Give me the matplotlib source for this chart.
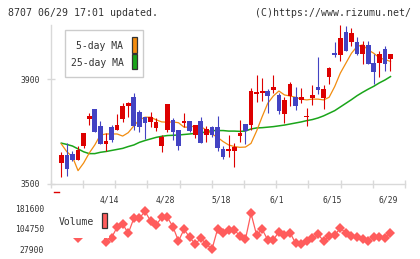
import numpy as np
import matplotlib
matplotlib.use("Agg")
import matplotlib.pyplot as plt
from matplotlib.patches import Rectangle
from matplotlib.lines import Line2D

# daily candles 4/1 .. 6/29 (60 trading days)
opens = [3581, 3611, 3615, 3593, 3645, 3750, 3787, 3722, 3654, 3719,
         3707, 3750, 3798, 3831, 3774, 3755, 3738, 3715, 3646, 3707,
         3745, 3706, 3733, 3741, 3687, 3741, 3688, 3717, 3717, 3633,
         3627, 3627, 3685, 3729, 3725, 3845, 3849, 3855, 3859, 3840,
         3767, 3836, 3832, 3821, 3757, 3829, 3872, 3829, 3910, 4000,
         3994, 4080, 4041, 4041, 3998, 4031, 3963, 3963, 4016, 3979]
highs = [3621, 3656, 3627, 3645, 3695, 3772, 3787, 3741, 3694, 3724,
         3767, 3808, 3814, 3848, 3783, 3755, 3774, 3753, 3687, 3806,
         3753, 3706, 3770, 3741, 3724, 3755, 3722, 3722, 3760, 3645,
         3687, 3656, 3745, 3729, 3866, 3916, 3905, 3863, 3916, 3848,
         3832, 3891, 3872, 3866, 3790, 3878, 3986, 3878, 3948, 4042,
         4107, 4104, 4096, 4062, 4046, 4046, 3997, 4008, 4025, 3997]
lows = [3528, 3532, 3588, 3590, 3636, 3727, 3700, 3654, 3625, 3659,
        3707, 3738, 3757, 3706, 3700, 3671, 3717, 3701, 3621, 3700,
        3668, 3630, 3717, 3700, 3676, 3656, 3659, 3680, 3627, 3597,
        3604, 3566, 3659, 3654, 3706, 3813, 3817, 3772, 3849, 3767,
        3734, 3798, 3783, 3808, 3722, 3803, 3844, 3787, 3882, 3983,
        3971, 4009, 4028, 3994, 3960, 3957, 3882, 3910, 3933, 3933]
closes = [3611, 3558, 3592, 3630, 3695, 3760, 3700, 3654, 3664, 3669,
          3725, 3798, 3808, 3723, 3719, 3733, 3755, 3738, 3680, 3806,
          3700, 3646, 3741, 3704, 3724, 3656, 3710, 3688, 3639, 3604,
          3633, 3643, 3695, 3704, 3855, 3853, 3856, 3836, 3871, 3780,
          3821, 3882, 3798, 3832, 3760, 3840, 3859, 3863, 3943, 3994,
          4057, 4009, 4076, 3998, 4031, 3957, 3929, 3997, 3960, 3997]

# moving averages
ma5 = [3653, 3623, 3604, 3551, 3580, 3618, 3649, 3687, 3691, 3691,
       3691, 3683, 3696, 3722, 3745, 3755, 3755, 3745, 3737, 3736,
       3737, 3734, 3717, 3717, 3722, 3719, 3706, 3691, 3678, 3662,
       3649, 3643, 3640, 3641, 3655, 3702, 3757, 3808, 3836, 3855,
       3840, 3836, 3831, 3824, 3821, 3824, 3824, 3821, 3831, 3872,
       3923, 3961, 3999, 4025, 4031, 4012, 3999, 3982, 3975, 3968]
ma25 = [3656, 3651, 3645, 3634, 3623, 3616, 3616, 3621, 3624, 3628,
        3632, 3636, 3643, 3649, 3659, 3666, 3672, 3678, 3682, 3685,
        3686, 3687, 3689, 3691, 3693, 3695, 3699, 3704, 3704, 3704,
        3702, 3702, 3701, 3702, 3710, 3714, 3715, 3717, 3719, 3722,
        3725, 3729, 3733, 3737, 3742, 3746, 3752, 3760, 3770, 3780,
        3794, 3808, 3822, 3837, 3850, 3862, 3873, 3886, 3897, 3910]

volume = [140000, 120000, 95000, 69000, 110000, 130000, 100000, 120000, 53600, 71300,
          111300, 124000, 88200, 145900, 145900, 172800, 135500, 120100, 149700, 149700,
          113600, 58600, 103600, 72900, 47100, 69000, 47100, 26700, 103600, 88200,
          100900, 100900, 79000, 65200, 165100, 81700, 103600, 62500, 62500, 94400,
          81700, 90500, 49800, 47100, 58600, 69000, 85500, 58600, 77900, 81700,
          107400, 90500, 77900, 75200, 65200, 59800, 72900, 72900, 69000, 88200]

date_pos = [9, 19, 29, 39, 49, 59]
date_labels = ["4/14", "4/28", "5/18", "6/1", "6/15", "6/29"]
price_ticks = [3500, 3900]
vol_ticks = [27900, 104750, 181600]

W, H = 420, 259
RED, BLUE = "#dd0000", "#4343c3"
ORANGE, GREEN = "#f28c0f", "#1aa51a"
VOLC = "#ff5c5c"
GRID = "#d9d9d9"
TXT = "#333333"
MONO = "DejaVu Sans Mono"


def fx(px):
    return px / W


def fy(py):
    return 1 - py / H


fig = plt.figure(figsize=(4.2, 2.59), dpi=100)
fig.patch.set_facecolor("white")

# ---- price chart
ax = fig.add_axes([fx(50.7), fy(184), (405 - 50.7) / W, (184 - 25) / H])
xlim = (-1.9, 61.6)
ax.set_xlim(*xlim)
ax.set_ylim(3500, 4107)

x = np.arange(len(closes))
ax.plot(x, ma25, color=GREEN, lw=1.1, zorder=2)
ax.plot(x, ma5, color=ORANGE, lw=0.9, zorder=2)

for i in range(len(closes)):
    o, h, l, c = opens[i], highs[i], lows[i], closes[i]
    col = RED if c >= o else BLUE
    ax.vlines(i, l, h, color=col, lw=0.8, zorder=3)
    lo = min(o, c)
    ht = max(abs(c - o), 3)
    ax.add_patch(Rectangle((i - 0.42, lo), 0.84, ht, facecolor=col,
                           edgecolor="none", zorder=4))

for s in ["top", "right"]:
    ax.spines[s].set_visible(False)
for s in ["left", "bottom"]:
    ax.spines[s].set_color(GRID)
    ax.spines[s].set_linewidth(1)

ax.set_yticks(price_ticks)
ax.set_yticklabels([str(v) for v in price_ticks], fontfamily=MONO,
                   fontsize=5.8, color=TXT)
ax.tick_params(axis="y", direction="inout", length=6, width=1,
               color=GRID, pad=5)

ax.set_xticks(np.linspace(xlim[0], xlim[1], 12))
ax.set_xticklabels([])
ax.tick_params(axis="x", direction="inout", length=6, width=1, color=GRID)
ax.set_xticks([p - 0.4 for p in date_pos], minor=True)
ax.set_xticklabels(date_labels, minor=True, fontfamily=MONO,
                   fontsize=5.8, color=TXT)
ax.tick_params(axis="x", which="minor", length=0, pad=8)

# small red mark under the axis
fig.add_artist(Line2D([fx(54.3), fx(59)], [fy(192.3), fy(192.3)],
                      color=RED, lw=1))

# ---- legend of moving averages
fig.add_artist(Rectangle((fx(65.3), fy(77.3)), (143.3 - 65.3) / W,
                         (77.3 - 30) / H, transform=fig.transFigure,
                         facecolor="white", edgecolor="#cccccc", lw=1,
                         zorder=6))
fig.text(fx(123.5), fy(46), "5-day MA", ha="right", va="center",
         fontfamily=MONO, fontsize=7, color=TXT, zorder=7)
fig.text(fx(123.5), fy(63.3), "25-day MA", ha="right", va="center",
         fontfamily=MONO, fontsize=7, color=TXT, zorder=7)
fig.add_artist(Rectangle((fx(131.7), fy(52.7)), 5.6 / W, 15.4 / H,
                         transform=fig.transFigure, facecolor=ORANGE,
                         edgecolor="#333333", lw=0.9, zorder=7))
fig.add_artist(Rectangle((fx(131.7), fy(69.3)), 5.6 / W, 15.3 / H,
                         transform=fig.transFigure, facecolor=GREEN,
                         edgecolor="#333333", lw=0.9, zorder=7))

# ---- volume chart
axv = fig.add_axes([fx(50.7), fy(251.06), (405 - 50.7) / W, 44.26 / H])
axv.set_xlim(*xlim)
axv.set_ylim(20000, 190000)
axv.plot(x, volume, color=VOLC, lw=0.9, marker="D", ms=5,
         markeredgewidth=0, clip_on=False)
for s in axv.spines.values():
    s.set_visible(False)
axv.set_xticks([])
axv.set_yticks(vol_ticks)
axv.set_yticklabels([str(v) for v in vol_ticks], fontfamily=MONO,
                    fontsize=5.8, color=TXT)
axv.tick_params(axis="y", length=0, pad=4.6)

# volume legend (white box hides the first points)
fig.add_artist(Rectangle((fx(53), fy(237.8)), (109 - 53) / W,
                         (237.8 - 205) / H, transform=fig.transFigure,
                         facecolor="white", edgecolor="none", zorder=6))
fig.text(fx(58.3), fy(222.3), "Volume", ha="left", va="center",
         fontfamily=MONO, fontsize=7, color=TXT, zorder=7)
fig.add_artist(Rectangle((fx(101.7), fy(228.3)), 5.6 / W, 15 / H,
                         transform=fig.transFigure, facecolor=VOLC,
                         edgecolor="#333333", lw=0.9, zorder=7))

# ---- header
fig.text(fx(8.3), fy(12.7), "8707 06/29 17:01 updated.", ha="left",
         va="center", fontfamily=MONO, fontsize=7.1, color=TXT)
fig.text(fx(410.7), fy(12.7), "(C)https://www.rizumu.net/", ha="right",
         va="center", fontfamily=MONO, fontsize=7.1, color=TXT)

fig.savefig("out.png", dpi=100)
